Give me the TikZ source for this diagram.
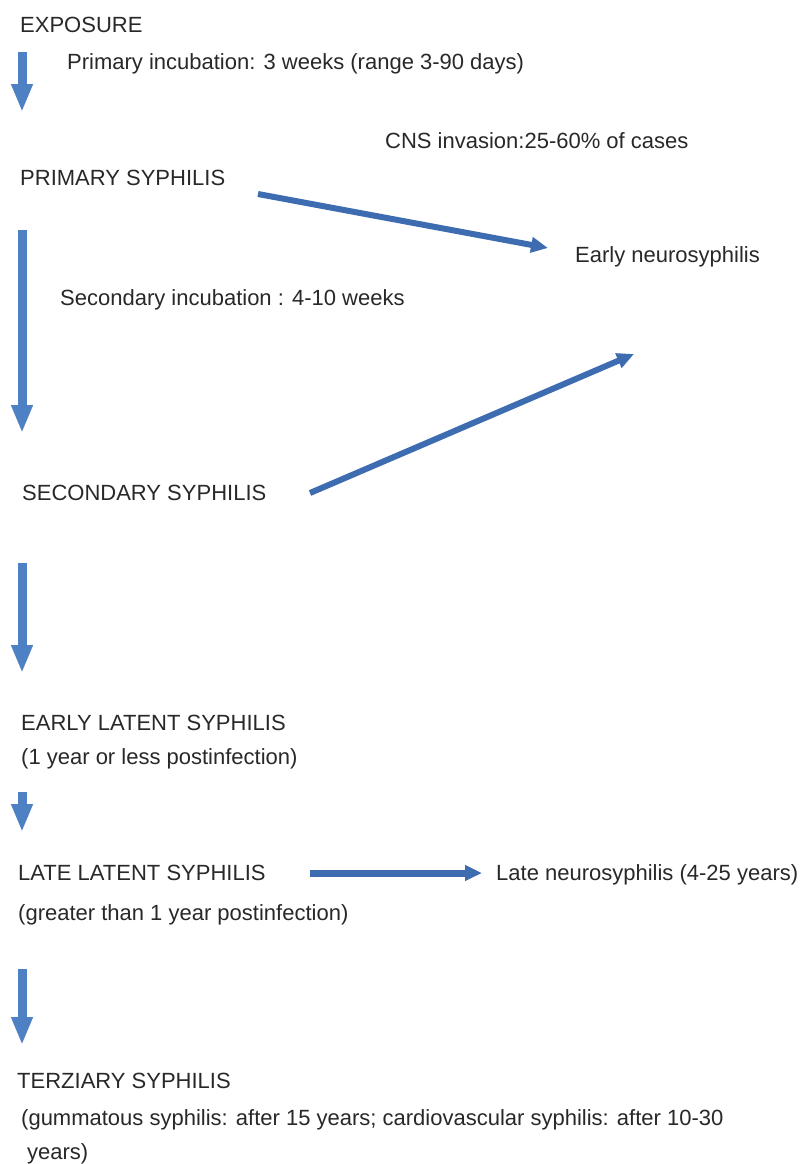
\documentclass[tikz,border=0pt]{standalone}
\usepackage{fontspec}
\setmainfont{Liberation Sans}
\usetikzlibrary{arrows.meta}
\definecolor{txt}{RGB}{40,40,40}
\definecolor{vblue}{RGB}{78,128,196}
\definecolor{dblue}{RGB}{62,108,176}
\tikzset{
  lbl/.style={anchor=base west,inner sep=0pt,text=txt,font=\fontsize{22}{26}\selectfont},
  varrow/.style={draw=vblue,line width=9pt,-{Triangle[width=20pt,length=28pt]}},
  darrow/.style={draw=dblue,line width=6pt,-{Triangle[width=15pt,length=17pt]}},
}
\begin{document}
\begin{tikzpicture}[x=1pt,y=-1pt]
\useasboundingbox (0,0) rectangle (811,1164);
\node[lbl] (exp) at (20,33) {EXPOSURE};
\node[lbl] (pinc) at (67,70) {Primary incubation: 3 weeks (range 3-90 days)};
\node[lbl] (cns) at (385,148) {CNS invasion:25-60\% of cases};
\node[lbl] (prim) at (20,185) {PRIMARY SYPHILIS};
\node[lbl] (eneu) at (575,262) {Early neurosyphilis};
\node[lbl] (sinc) at (60,305) {Secondary incubation : 4-10 weeks};
\node[lbl] (sec) at (22,500) {SECONDARY SYPHILIS};
\node[lbl] (elat) at (21,730) {EARLY LATENT SYPHILIS};
\node[lbl] (elatd) at (21,764) {(1 year or less postinfection)};
\node[lbl] (llat) at (18,880) {LATE LATENT SYPHILIS};
\node[lbl] (lneu) at (496,880) {Late neurosyphilis (4-25 years)};
\node[lbl] (llatd) at (18,920) {(greater than 1 year postinfection)};
\node[lbl] (ter) at (17,1088) {TERZIARY SYPHILIS};
\node[lbl] (terd) at (21,1125) {(gummatous syphilis: after 15 years; cardiovascular syphilis: after 10-30};
\node[lbl] (terd2) at (27,1159) {years)};
% connector end points
\coordinate (a1s) at (22,52);   \coordinate (a1e) at (22,112);
\coordinate (a2s) at (22,230);  \coordinate (a2e) at (22,433);
\coordinate (a3s) at (22,563);  \coordinate (a3e) at (22,673);
\coordinate (a4s) at (22,792);  \coordinate (a4e) at (22,832);
\coordinate (a5s) at (22,969);  \coordinate (a5e) at (22,1045);
\coordinate (d1s) at (258,194); \coordinate (d1e) at (548,248);
\coordinate (d2s) at (310,493); \coordinate (d2e) at (634,354);
\coordinate (hs) at (310,873);  \coordinate (he) at (482,873);
\draw[varrow] (a1s) -- (a1e);
\draw[varrow] (a2s) -- (a2e);
\draw[varrow] (a3s) -- (a3e);
\draw[varrow] (a4s) -- (a4e);
\draw[varrow] (a5s) -- (a5e);
\draw[darrow] (d1s) -- (d1e);
\draw[darrow] (d2s) -- (d2e);
\draw[darrow,line width=7pt] (hs) -- (he);
\end{tikzpicture}
\end{document}
